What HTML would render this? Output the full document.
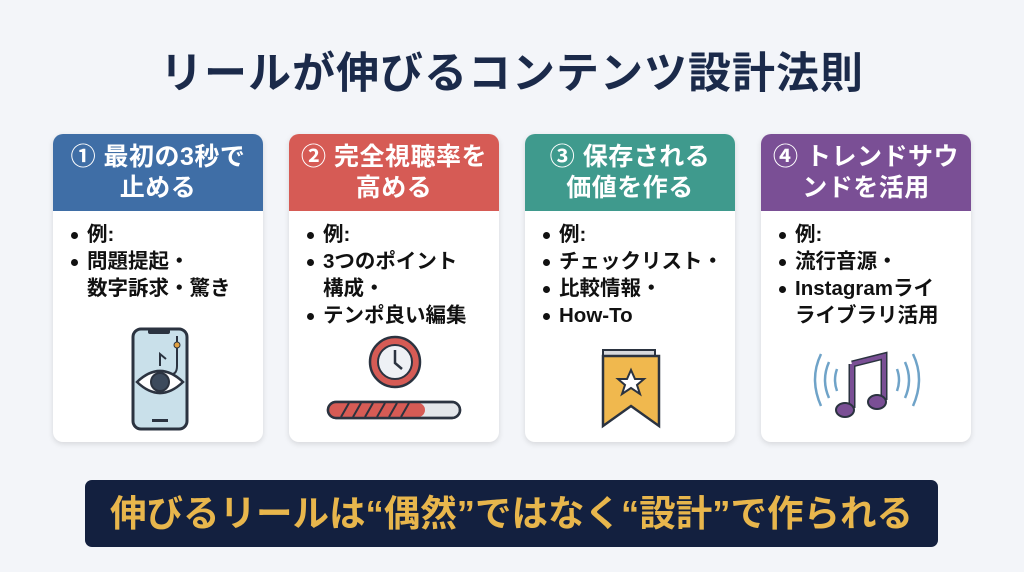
<!DOCTYPE html>
<html><head><meta charset="utf-8"><style>
*{margin:0;padding:0;box-sizing:border-box}
body{width:1024px;height:572px;background:#f3f5f9;font-family:"Liberation Sans","Noto Sans CJK JP",sans-serif;position:relative;overflow:hidden}
.title{position:absolute;left:0;top:39px;width:1024px;text-align:center;font-size:43px;font-weight:bold;color:#1b2a4a;letter-spacing:1px}
.card{position:absolute;top:134px;width:210px;height:308px;background:#fff;border-radius:10px;box-shadow:0 2px 6px rgba(0,0,0,.12);overflow:hidden}
.hd{height:77px;color:#fff;font-size:25px;font-weight:bold;text-align:center;line-height:31px;padding-top:8px;letter-spacing:0.5px;white-space:nowrap}
.bd{position:absolute;left:14px;top:87px;font-size:20.5px;font-weight:bold;color:#111;line-height:27px;white-space:nowrap}
.bd div{padding-left:20px;position:relative}
.bd div:before{content:"";position:absolute;left:4px;top:11px;width:7px;height:7px;border-radius:50%;background:#111}
svg{position:absolute}
.banner{position:absolute;left:85px;top:480px;width:853px;height:67px;background:#13203f;border-radius:7px;color:#e8b64c;font-size:36.5px;font-weight:bold;text-align:center;line-height:67px;white-space:nowrap}
</style></head><body>
<div class="title">リールが伸びるコンテンツ設計法則</div>

<div class="card" style="left:53px">
<div class="hd" style="background:#3f6ea6">① 最初の3秒で<br>止める</div>
<div class="bd"><div>例:</div><div>問題提起・<br>数字訴求・驚き</div></div>
<svg style="left:77px;top:192px" width="60" height="106" viewBox="0 0 60 106">
<rect x="3" y="3" width="54" height="100" rx="8" fill="#c9e0ea" stroke="#2b3340" stroke-width="3"/>
<rect x="18" y="3" width="22" height="5" rx="2" fill="#2b3340"/>
<rect x="22" y="93" width="16" height="3" fill="#2b3340"/>
<path d="M47 10 V40 Q47 50 38 48" fill="none" stroke="#2b3340" stroke-width="2"/>
<circle cx="47" cy="19" r="3" fill="#e0a040" stroke="#2b3340"/>
<path d="M30 40 V28 L36 33" fill="none" stroke="#2b3340" stroke-width="2"/>
<path d="M7 56 Q30 34 53 56 Q30 78 7 56Z" fill="#fff" stroke="#2b3340" stroke-width="2.5"/>
<circle cx="30" cy="56" r="9" fill="#3c4a5c" stroke="#2b3340" stroke-width="2"/>
</svg>
</div>

<div class="card" style="left:289px">
<div class="hd" style="background:#d65b55">② 完全視聴率を<br>高める</div>
<div class="bd"><div>例:</div><div>3つのポイント<br>構成・</div><div>テンポ良い編集</div></div>
<svg style="left:36px;top:200px" width="140" height="90" viewBox="0 0 140 90">
<circle cx="70" cy="28" r="25" fill="#d65b55" stroke="#2b3340" stroke-width="2.5"/>
<circle cx="70" cy="28" r="17" fill="#eef1f5" stroke="#2b3340" stroke-width="2"/>
<path d="M70 16 V29 L77 35" fill="none" stroke="#2b3340" stroke-width="2.5"/>
<rect x="3" y="68" width="132" height="16" rx="8" fill="#e3e6ea" stroke="#2b3340" stroke-width="2.5"/>
<rect x="4" y="69" width="96" height="14" rx="7" fill="#d65b55"/>
<path d="M16 83 L24 69 M28 83 L36 69 M40 83 L48 69 M52 83 L60 69 M64 83 L72 69 M76 83 L84 69" stroke="#2b3340" stroke-width="2"/>
<rect x="3" y="68" width="132" height="16" rx="8" fill="none" stroke="#2b3340" stroke-width="2.5"/>
</svg>
</div>

<div class="card" style="left:525px">
<div class="hd" style="background:#3f9a8d">③ 保存される<br>価値を作る</div>
<div class="bd"><div>例:</div><div>チェックリスト・</div><div>比較情報・</div><div>How-To</div></div>
<svg style="left:74px;top:212px" width="64" height="84" viewBox="0 0 64 84">
<path d="M4 4 H56 V10 H4Z" fill="#d7d9dd" stroke="#2b3340" stroke-width="2"/>
<path d="M4 10 H60 V80 L32 60 L4 80Z" fill="#f0b84e" stroke="#2b3340" stroke-width="2.5"/>
<path d="M32 24 L36 33 L45 33 L38 39 L41 48 L32 42 L23 48 L26 39 L19 33 L28 33Z" fill="#fff" stroke="#2b3340" stroke-width="2"/>
</svg>
</div>

<div class="card" style="left:761px">
<div class="hd" style="background:#7a4f95">④ トレンドサウ<br>ンドを活用</div>
<div class="bd"><div>例:</div><div>流行音源・</div><div>Instagramライ<br>ライブラリ活用</div></div>
<svg style="left:46px;top:210px" width="120" height="80" viewBox="0 0 120 80">
<path d="M14 10 Q2 35 14 62 M22 18 Q14 36 22 54 M30 25 Q26 36 30 47" fill="none" stroke="#6fa3c8" stroke-width="2.5"/>
<path d="M106 10 Q118 35 106 62 M98 18 Q106 36 98 54 M90 25 Q94 36 90 47" fill="none" stroke="#6fa3c8" stroke-width="2.5"/>
<path d="M45 20 L77 12 V56 M45 20 V64" fill="none" stroke="#2b3340" stroke-width="7"/>
<path d="M45 20 L77 12 V56 M45 20 V64" fill="none" stroke="#7a4f95" stroke-width="4"/>
<ellipse cx="38" cy="66" rx="9" ry="7" fill="#7a4f95" stroke="#2b3340" stroke-width="2"/>
<ellipse cx="70" cy="58" rx="9" ry="7" fill="#7a4f95" stroke="#2b3340" stroke-width="2"/>
</svg>
</div>

<div class="banner">伸びるリールは“偶然”ではなく“設計”で作られる</div>
</body></html>
